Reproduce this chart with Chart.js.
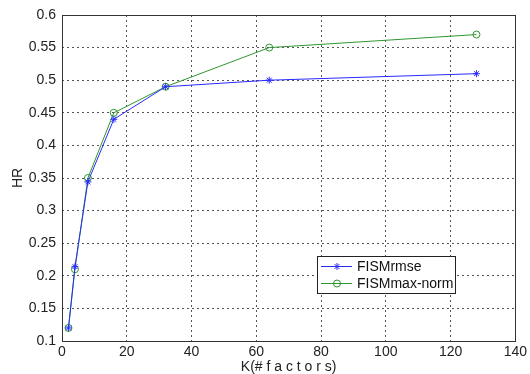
<!DOCTYPE html>
<html>
<head>
<meta charset="utf-8">
<script src="https://cdn.jsdelivr.net/npm/chart.js@4"></script>
<style>
  html, body { margin: 0; padding: 0; background: #fff; }
  #wrap { width: 530px; height: 374px; }
</style>
</head>
<body>
<div id="wrap"><canvas id="hr" width="530" height="374"></canvas></div>
<script>
// values
var factors = [2, 4, 8, 16, 32, 64, 128];
var hrRmse = [0.12, 0.214, 0.344, 0.44, 0.49, 0.50, 0.51];
var hrMaxNorm = [0.12, 0.21, 0.35, 0.45, 0.49, 0.55, 0.57];
var seriesNames = ['FISMrmse', 'FISMmax-norm'];
var xTicks = [0, 20, 40, 60, 80, 100, 120, 140];
var yTicks = [0.1, 0.15, 0.2, 0.25, 0.3, 0.35, 0.4, 0.45, 0.5, 0.55, 0.6];
var yTickLabels = ['0.1', '0.15', '0.2', '0.25', '0.3', '0.35', '0.4', '0.45', '0.5', '0.55', '0.6'];

var BLUE = '#2a2aff';
var GREEN = '#2f962f';
var FONT = "'Liberation Sans', Arial, sans-serif";

function toPoints(ys) {
  return factors.map(function (x, i) {
    return { x: x, y: ys[i] };
  });
}

// box round the axes + legend with a border, matlab style
var boxPlugin = {
  id: 'box',
  afterDraw: function (chart) {
    var a = chart.chartArea;
    var ctx = chart.ctx;
    ctx.save();
    ctx.strokeStyle = '#333';
    ctx.lineWidth = 1;
    ctx.setLineDash([]);
    ctx.strokeRect(Math.round(a.left) + 0.5, Math.round(a.top) + 0.5,
      Math.round(a.right - a.left), Math.round(a.bottom - a.top));

    var lx = Math.round(a.right) - 198, ly = Math.round(a.bottom) - 85;
    ctx.fillStyle = '#fff';
    ctx.fillRect(lx, ly, 138, 37);
    ctx.strokeStyle = '#222';
    ctx.strokeRect(lx + 0.5, ly + 0.5, 138, 37);

    ctx.font = '14px ' + FONT;
    ctx.textBaseline = 'middle';
    chart.data.datasets.forEach(function (ds, i) {
      var y = ly + 10 + i * 17;
      ctx.strokeStyle = ds.borderColor;
      ctx.lineWidth = 1;
      ctx.beginPath();
      ctx.moveTo(lx + 4, y + 0.5);
      ctx.lineTo(lx + 35, y + 0.5);
      ctx.stroke();
      ctx.fillStyle = ds.pointBackgroundColor;
      Chart.helpers.drawPoint(ctx, {
        pointStyle: ds.pointStyle, radius: ds.pointRadius, rotation: 0, borderWidth: 1
      }, lx + 20, y + 0.5);
      ctx.fillStyle = '#111';
      ctx.fillText(ds.label, lx + 40, y + 1.5);
    });
    ctx.restore();
  }
};

var dotted = { color: '#555', drawTicks: false, borderDash: [2, 3] };

new Chart(document.getElementById('hr'), {
  type: 'line',
  data: {
    datasets: [
      {
        label: seriesNames[0],
        data: toPoints(hrRmse),
        borderColor: BLUE,
        backgroundColor: BLUE,
        pointBackgroundColor: BLUE,
        pointBorderColor: BLUE,
        pointStyle: 'star',
        pointRadius: 3.5,
        borderWidth: 1,
        tension: 0
      },
      {
        label: seriesNames[1],
        data: toPoints(hrMaxNorm),
        borderColor: GREEN,
        backgroundColor: GREEN,
        pointBackgroundColor: 'rgba(0,0,0,0)',
        pointBorderColor: GREEN,
        pointStyle: 'circle',
        pointRadius: 3.5,
        borderWidth: 1,
        tension: 0
      }
    ]
  },
  options: {
    responsive: false,
    animation: false,
    devicePixelRatio: 1,
    layout: { padding: { top: 15, right: 13, left: 0, bottom: 0 } },
    plugins: {
      legend: { display: false },
      tooltip: { enabled: false }
    },
    scales: {
      x: {
        type: 'linear',
        min: 0,
        max: 140,
        afterBuildTicks: function (s) {
          s.ticks = xTicks.map(function (v) { return { value: v }; });
        },
        afterFit: function (s) { s.height = 33; },
        grid: dotted,
        border: { display: false, dash: [2, 3] },
        ticks: {
          color: '#222',
          padding: 3,
          maxRotation: 0,
          font: { family: FONT, size: 14 },
          callback: function (v) { return String(v); }
        },
        title: {
          display: true,
          text: 'K(# f a c t o r s)',
          color: '#222',
          padding: { top: 0, bottom: 0 },
          font: { family: FONT, size: 14, lineHeight: 1.0 }
        }
      },
      y: {
        type: 'linear',
        min: 0.1,
        max: 0.6,
        afterBuildTicks: function (s) {
          s.ticks = yTicks.map(function (v) { return { value: v }; });
        },
        afterFit: function (s) { s.width = 62; },
        grid: dotted,
        border: { display: false, dash: [2, 3] },
        ticks: {
          color: '#222',
          padding: 6,
          font: { family: FONT, size: 14 },
          callback: function (v, i) { return yTickLabels[i]; }
        },
        title: {
          display: true,
          text: 'HR',
          color: '#222',
          padding: { top: 10, bottom: 0 },
          font: { family: FONT, size: 14 }
        }
      }
    }
  },
  plugins: [boxPlugin]
});
</script>
</body>
</html>
